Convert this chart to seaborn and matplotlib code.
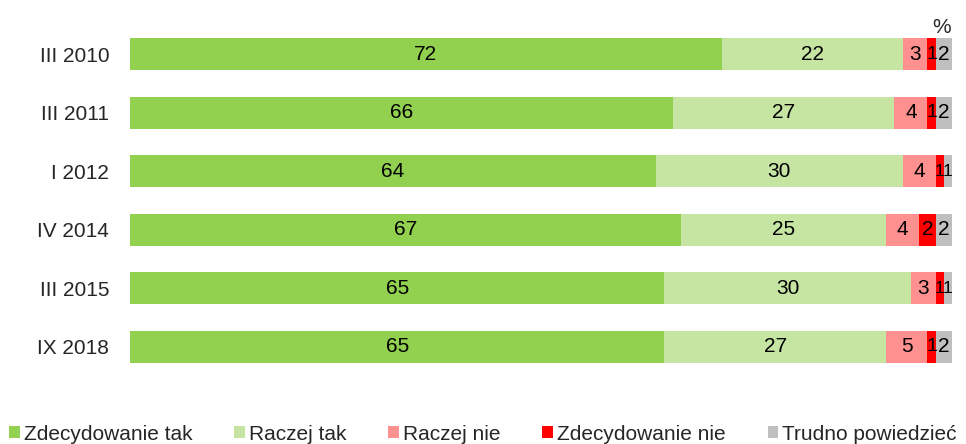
import numpy as np
import pandas as pd
import matplotlib
matplotlib.use("Agg")
import matplotlib.pyplot as plt
import seaborn as sns
from matplotlib.patches import Patch

periods = ["III 2010", "III 2011", "I 2012", "IV 2014", "III 2015", "IX 2018"]
answers = ["Zdecydowanie tak", "Raczej tak", "Raczej nie", "Zdecydowanie nie", "Trudno powiedzieć"]
zdecydowanie_tak = [72, 66, 64, 67, 65, 65]
raczej_tak = [22, 27, 30, 25, 30, 27]
raczej_nie = [3, 4, 4, 4, 3, 5]
zdecydowanie_nie = [1, 1, 1, 2, 1, 1]
trudno = [2, 2, 1, 2, 1, 2]
colors = ["#92D050", "#C6E5A3", "#FF9090", "#FF0000", "#BFBFBF"]

sns.set_style("white")
plt.rcParams["font.family"] = ["Liberation Sans", "DejaVu Sans"]
FS = 15

df = pd.DataFrame({"Okres": periods, "Zdecydowanie tak": zdecydowanie_tak,
                   "Raczej tak": raczej_tak, "Raczej nie": raczej_nie,
                   "Zdecydowanie nie": zdecydowanie_nie, "Trudno powiedzieć": trudno})
cum = df[answers].cumsum(axis=1)

fig = plt.figure(figsize=(9.66, 4.44), dpi=100)
ax = fig.add_axes([130 / 966, 1 - 376 / 444, 822 / 966, 351 / 444])

# stacked bars: draw cumulative totals from the back to the front
for col, c in reversed(list(zip(answers, colors))):
    sns.barplot(x=cum[col], y=df["Okres"], color=c, orient="h", width=0.55,
                linewidth=0, saturation=1, ax=ax)

for i, row in df.iterrows():
    both_one = row["Zdecydowanie nie"] == 1 and row["Trudno powiedzieć"] == 1
    for col in answers:
        center = cum.loc[i, col] - row[col] / 2
        # two 1% segments side by side: squeeze the labels a bit
        if both_one and col in ("Zdecydowanie nie", "Trudno powiedzieć"):
            fs = 12.5
        elif row[col] == 1:
            fs = FS - 1
        else:
            fs = FS
        ax.text(center, i, str(row[col]), ha="center", va="center", fontsize=fs, color="black")

ax.set_xlim(0, 100)
ax.set_ylim(5.5, -0.5)
ax.set_xlabel("")
ax.set_ylabel("")
ax.set_xticks([])
ax.tick_params(axis="y", length=0, pad=15, labelsize=FS)
sns.despine(ax=ax, left=True, bottom=True)

fig.text(942 / 966, 1 - 33 / 444, "%", ha="center", va="baseline", fontsize=FS)

handles = [Patch(facecolor=c, edgecolor="none") for c in colors]
fig.legend(handles, answers, loc="lower left", bbox_to_anchor=(0.0, -0.02, 1.0, 0.05),
           mode="expand", ncol=5, frameon=False, fontsize=FS, handlelength=0.5,
           handleheight=0.5, handletextpad=0.2, borderaxespad=0.05)

fig.savefig("out.png", dpi=100)
